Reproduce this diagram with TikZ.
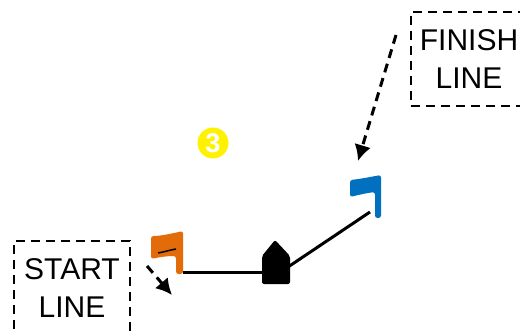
\documentclass[tikz,border=0pt]{standalone}
\usepackage{fontspec}
\setmainfont{Liberation Sans}
\usepackage{xcolor}
\usetikzlibrary{arrows.meta}
\definecolor{flagOrange}{rgb}{0.89,0.42,0.04}
\definecolor{flagBlue}{rgb}{0,0.44,0.75}
\tikzset{
 linebox/.style={draw,line width=2.6pt,dash pattern=on 9pt off 6pt,minimum width=116pt,minimum height=94pt,align=center,inner sep=0pt,font=\fontsize{30}{38}\selectfont},
 guide/.style={line width=3pt,dash pattern=on 9pt off 6pt,-{Latex[length=16pt,width=17pt]}},
 course/.style={line width=3pt}
}
\begin{document}
\begin{tikzpicture}[x=1pt,y=-1pt]
 	\useasboundingbox (0,0) rectangle (520,334);
 	\clip (0,0) rectangle (520,334);
 	\node[linebox] (startbox) at (72,288) {START\\LINE};
 	\node[linebox] (finishbox) at (469,59) {FINISH\\LINE};
 	\node[circle,fill=yellow,text=white,inner sep=0pt,minimum size=31pt,font=\fontsize{27}{27}\selectfont\bfseries] (count) at (213,143) {3};
 	\coordinate (startfoot) at (183,272);
 	\coordinate (boatport) at (263,272);
 	\coordinate (boatstar) at (288,267);
 	\coordinate (finishfoot) at (370,212);
 	\coordinate (starttail) at (147,266);
 	\coordinate (starthead) at (172,295);
 	\coordinate (finishtail) at (396,35);
 	\coordinate (finishhead) at (358,161);
 	\draw[course] (startfoot) -- (boatport);
 	\draw[course] (boatstar) -- (finishfoot);
 	\fill[flagOrange,rounded corners=2.5pt] (151,236) .. controls (160,236) and (170,234) .. (183,231) -- (183,274) -- (176,274) -- (176,256) .. controls (168,256) and (160,257) .. (151,259) -- cycle;
 	\fill[flagBlue,rounded corners=2.5pt] (350,180) .. controls (360,179) and (370,177) .. (381,175) -- (381,218) -- (375,218) -- (375,192) .. controls (367,193) and (358,195) .. (350,197) -- cycle;
 	\fill[rounded corners=2pt] (262,284) -- (262,256) -- (275,240) -- (290,256) -- (290,284) -- cycle;
 	\draw[line width=1.5pt] (158,253) .. controls (164,252) and (170,250) .. (176,249);
 	\draw[guide] (starttail) -- (starthead);
 	\draw[guide] (finishtail) -- (finishhead);
\end{tikzpicture}
\end{document}
